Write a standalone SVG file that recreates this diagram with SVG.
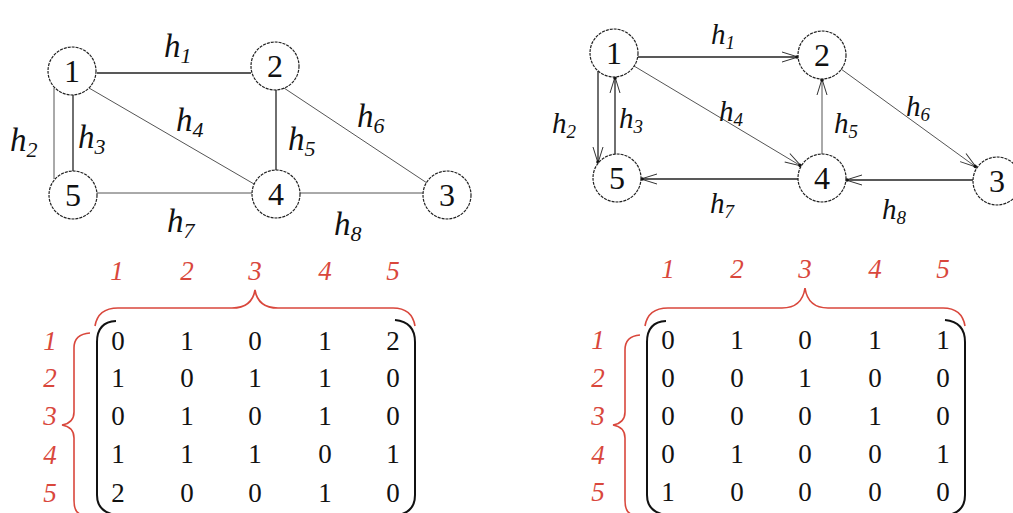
<svg xmlns="http://www.w3.org/2000/svg" width="1013" height="513" viewBox="0 0 1013 513" font-family="Liberation Serif, Tinos, Times New Roman, DejaVu Serif, serif">
<style>
.node{fill:#fff;stroke:#222;stroke-width:1.2;stroke-dasharray:3 1}
.nt{font-size:32px;fill:#111;text-anchor:middle}
.e{stroke:#222;stroke-width:1.3;fill:none}
.el{stroke:#555;stroke-width:1;fill:none}
.lb{font-style:italic;font-size:33px;fill:#111}
.lbs{font-size:22px}
.lb2{font-style:italic;font-size:29px;fill:#111}
.lbs2{font-size:19px}
.red{font-style:italic;font-size:27px;fill:#d9473c;text-anchor:middle}
.m{font-size:27px;fill:#111;text-anchor:middle}
.br{stroke:#d9473c;stroke-width:1.6;fill:none}
.bk{stroke:#111;stroke-width:2;fill:none}
</style>
<defs>
<marker id="ar" markerWidth="20" markerHeight="14" refX="18" refY="7" orient="auto" markerUnits="userSpaceOnUse">
<path d="M2,2 L18,7 L2,12" fill="none" stroke="#333" stroke-width="1"/>
<circle cx="17" cy="7" r="1.8" fill="#111"/>
</marker>
</defs>

<g id="connectors-left">
<line class="e" x1="97" y1="73" x2="251" y2="73"/>
<line class="el" x1="54" y1="88" x2="54" y2="179"/>
<line class="e" x1="73" y1="95" x2="73" y2="171"/>
<line class="el" x1="89" y1="88" x2="254" y2="184"/>
<line class="e" x1="276" y1="90" x2="276" y2="170"/>
<line class="el" x1="284" y1="88" x2="427" y2="183"/>
<line class="el" x1="97" y1="193" x2="252" y2="193"/>
<line class="el" x1="300" y1="193" x2="423" y2="193"/>
</g>
<g id="labels-left">
<text class="lb" x="164" y="57">h<tspan class="lbs" dy="6">1</tspan></text>
<text class="lb" x="10" y="151">h<tspan class="lbs" dy="6">2</tspan></text>
<text class="lb" x="78" y="148">h<tspan class="lbs" dy="6">3</tspan></text>
<text class="lb" x="176" y="131">h<tspan class="lbs" dy="6">4</tspan></text>
<text class="lb" x="288" y="150">h<tspan class="lbs" dy="6">5</tspan></text>
<text class="lb" x="357" y="127">h<tspan class="lbs" dy="6">6</tspan></text>
<text class="lb" x="167" y="232">h<tspan class="lbs" dy="6">7</tspan></text>
<text class="lb" x="334" y="235">h<tspan class="lbs" dy="6">8</tspan></text>
</g>
<g id="L1"><circle class="node" cx="72" cy="71" r="24"/><text class="nt" x="72" y="82">1</text></g>
<g id="L2"><circle class="node" cx="275" cy="66" r="24"/><text class="nt" x="275" y="77">2</text></g>
<g id="L5"><circle class="node" cx="73" cy="195" r="24"/><text class="nt" x="73" y="206">5</text></g>
<g id="L4"><circle class="node" cx="276" cy="194" r="24"/><text class="nt" x="276" y="205">4</text></g>
<g id="L3"><circle class="node" cx="447" cy="195" r="24"/><text class="nt" x="447" y="206">3</text></g>

<g id="connectors-right">
<line class="e" x1="638" y1="57" x2="798" y2="57" marker-end="url(#ar)"/>
<line class="e" x1="598" y1="71" x2="598" y2="163" marker-end="url(#ar)"/>
<line class="e" x1="615" y1="154" x2="615" y2="77" marker-end="url(#ar)"/>
<line class="el" x1="634" y1="66" x2="801" y2="166" marker-end="url(#ar)"/>
<line class="el" x1="822" y1="154" x2="822" y2="79" marker-end="url(#ar)"/>
<line class="el" x1="841" y1="69" x2="976" y2="167" marker-end="url(#ar)"/>
<line class="e" x1="798" y1="179" x2="641" y2="179" marker-end="url(#ar)"/>
<line class="e" x1="973" y1="180" x2="846" y2="180" marker-end="url(#ar)"/>
</g>
<g id="labels-right">
<text class="lb2" x="711" y="44">h<tspan class="lbs2" dy="5">1</tspan></text>
<text class="lb2" x="552" y="133">h<tspan class="lbs2" dy="5">2</tspan></text>
<text class="lb2" x="619" y="128">h<tspan class="lbs2" dy="5">3</tspan></text>
<text class="lb2" x="719" y="121">h<tspan class="lbs2" dy="5">4</tspan></text>
<text class="lb2" x="834" y="133">h<tspan class="lbs2" dy="5">5</tspan></text>
<text class="lb2" x="906" y="116">h<tspan class="lbs2" dy="5">6</tspan></text>
<text class="lb2" x="710" y="213">h<tspan class="lbs2" dy="5">7</tspan></text>
<text class="lb2" x="882" y="219">h<tspan class="lbs2" dy="5">8</tspan></text>
</g>
<g id="R1"><circle class="node" cx="614" cy="53" r="24"/><text class="nt" x="614" y="64">1</text></g>
<g id="R2"><circle class="node" cx="822" cy="55" r="24"/><text class="nt" x="822" y="66">2</text></g>
<g id="R5"><circle class="node" cx="617" cy="178" r="24"/><text class="nt" x="617" y="189">5</text></g>
<g id="R4"><circle class="node" cx="822" cy="178" r="24"/><text class="nt" x="822" y="189">4</text></g>
<g id="R3"><circle class="node" cx="997" cy="181" r="24"/><text class="nt" x="997" y="192">3</text></g>

<g id="matrix-left">
<text class="red" x="117" y="280">1</text><text class="red" x="187" y="280">2</text><text class="red" x="255" y="280">3</text><text class="red" x="325" y="280">4</text><text class="red" x="393" y="280">5</text>
<path class="br" d="M95,326 Q98,308 118,308 L232,308 Q252,308 255,290 Q258,308 278,308 L393,308 Q412,308 415,326"/>
<path class="br" d="M90,333 Q74,334 74,348 L74,412 Q74,423 62,425 Q74,427 74,438 L74,500 Q74,512 80,514"/>
<path class="bk" d="M116,321 Q97,322 97,342 L97,495 Q97,512 116,515"/>
<path class="bk" d="M395,320 Q415,322 415,342 L415,495 Q415,512 398,515"/>
<text class="red" x="50" y="350">1</text><text class="red" x="50" y="387">2</text><text class="red" x="50" y="425">3</text><text class="red" x="50" y="464">4</text><text class="red" x="50" y="502">5</text>
<text class="m" x="118" y="350">0</text><text class="m" x="187" y="350">1</text><text class="m" x="255" y="350">0</text><text class="m" x="325" y="350">1</text><text class="m" x="393" y="350">2</text>
<text class="m" x="118" y="387">1</text><text class="m" x="187" y="387">0</text><text class="m" x="255" y="387">1</text><text class="m" x="325" y="387">1</text><text class="m" x="393" y="387">0</text>
<text class="m" x="118" y="425">0</text><text class="m" x="187" y="425">1</text><text class="m" x="255" y="425">0</text><text class="m" x="325" y="425">1</text><text class="m" x="393" y="425">0</text>
<text class="m" x="118" y="463">1</text><text class="m" x="187" y="463">1</text><text class="m" x="255" y="463">1</text><text class="m" x="325" y="463">0</text><text class="m" x="393" y="463">1</text>
<text class="m" x="118" y="502">2</text><text class="m" x="187" y="502">0</text><text class="m" x="255" y="502">0</text><text class="m" x="325" y="502">1</text><text class="m" x="393" y="502">0</text>
</g>

<g id="matrix-right">
<text class="red" x="668" y="278">1</text><text class="red" x="737" y="278">2</text><text class="red" x="805" y="278">3</text><text class="red" x="875" y="278">4</text><text class="red" x="943" y="278">5</text>
<path class="br" d="M645,326 Q648,308 668,308 L782,308 Q802,308 805,288 Q808,308 828,308 L943,308 Q962,308 965,326"/>
<path class="br" d="M640,335 Q625,336 625,350 L625,412 Q625,423 613,425 Q625,427 625,438 L625,500 Q625,512 631,514"/>
<path class="bk" d="M666,321 Q647,322 647,342 L647,495 Q647,512 666,515"/>
<path class="bk" d="M945,320 Q965,322 965,342 L965,495 Q965,512 948,515"/>
<text class="red" x="598" y="349">1</text><text class="red" x="598" y="387">2</text><text class="red" x="598" y="425">3</text><text class="red" x="598" y="464">4</text><text class="red" x="598" y="501">5</text>
<text class="m" x="668" y="349">0</text><text class="m" x="737" y="349">1</text><text class="m" x="805" y="349">0</text><text class="m" x="875" y="349">1</text><text class="m" x="943" y="349">1</text>
<text class="m" x="668" y="387">0</text><text class="m" x="737" y="387">0</text><text class="m" x="805" y="387">1</text><text class="m" x="875" y="387">0</text><text class="m" x="943" y="387">0</text>
<text class="m" x="668" y="425">0</text><text class="m" x="737" y="425">0</text><text class="m" x="805" y="425">0</text><text class="m" x="875" y="425">1</text><text class="m" x="943" y="425">0</text>
<text class="m" x="668" y="463">0</text><text class="m" x="737" y="463">1</text><text class="m" x="805" y="463">0</text><text class="m" x="875" y="463">0</text><text class="m" x="943" y="463">1</text>
<text class="m" x="668" y="501">1</text><text class="m" x="737" y="501">0</text><text class="m" x="805" y="501">0</text><text class="m" x="875" y="501">0</text><text class="m" x="943" y="501">0</text>
</g>
</svg>
